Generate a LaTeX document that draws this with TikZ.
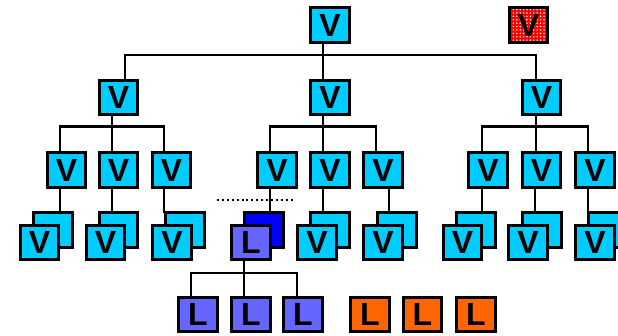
\documentclass[tikz,border=0pt]{standalone}
\usepackage{fontspec}
\setmainfont{Liberation Sans}
\usetikzlibrary{positioning, patterns.meta}

\definecolor{vcyan}{RGB}{0,204,255}
\definecolor{lblue}{RGB}{102,102,255}
\definecolor{dblue}{RGB}{0,0,255}
\definecolor{lorange}{RGB}{255,102,0}

\begin{document}
\begin{tikzpicture}[
    x=1pt, y=-1pt,
    box/.style={
        rectangle,
        draw=black,
        line width=2.6pt,
        minimum width=38.5pt,
        minimum height=34.5pt,
        inner sep=0pt,
        font=\bfseries\fontsize{32}{32}\selectfont
    },
    vbox/.style={box, fill=vcyan},
    lbox/.style={box, fill=lblue},
    link/.style={line width=2.6pt, draw=black}
]
\useasboundingbox (0,0) rectangle (618,336);

% === Row 1: root and spare ===
\node[vbox] (v0) at (330, 25) {V};
\node[box, preaction={fill=red}, pattern={Dots[radius=0.8pt, distance=3.4pt]}, pattern color=white] (vr) at (528.5, 25) {V};

% === Row 2 ===
\node[vbox] (v1) at (118.5, 97.5) {V};
\node[vbox] (v2) at (330, 97.5) {V};
\node[vbox] (v3) at (541.5, 97.5) {V};

% === Row 3 ===
\node[vbox] (v11) at (66.5, 170) {V};
\node[vbox] (v12) at (118.5, 170) {V};
\node[vbox] (v13) at (171.5, 170) {V};
\node[vbox] (v21) at (277, 170) {V};
\node[vbox] (v22) at (330, 170) {V};
\node[vbox] (v23) at (383, 170) {V};
\node[vbox] (v31) at (488, 170) {V};
\node[vbox] (v32) at (541.5, 170) {V};
\node[vbox] (v33) at (595, 170) {V};

% === Row 4: back copies ===
\node[vbox] (b11) at (53, 230) {};
\node[vbox] (b12) at (118.5, 230) {};
\node[vbox] (b13) at (185, 230) {};
\node[box, fill=dblue] (b21) at (264, 230) {};
\node[vbox] (b22) at (330, 230) {};
\node[vbox] (b23) at (397, 230) {};
\node[vbox] (b31) at (476, 230) {};
\node[vbox] (b32) at (542, 230) {};
\node[vbox] (b33) at (608, 230) {};

% === Row 4: front copies ===
\node[vbox] (f11) at (39.5, 242.5) {V};
\node[vbox] (f12) at (105.5, 242.5) {V};
\node[vbox] (f13) at (172, 242.5) {V};
\node[lbox] (f21) at (251, 242.5) {L};
\node[vbox] (f22) at (317, 242.5) {V};
\node[vbox] (f23) at (383, 242.5) {V};
\node[vbox] (f31) at (462.5, 242.5) {V};
\node[vbox] (f32) at (528, 242.5) {V};
\node[vbox] (f33) at (595, 242.5) {V};

% === Row 5 ===
\node[lbox] (l1) at (198, 314.5) {L};
\node[lbox] (l2) at (251, 314.5) {L};
\node[lbox] (l3) at (303, 314.5) {L};
\node[box, fill=lorange] (o1) at (370, 314.5) {L};
\node[box, fill=lorange] (o2) at (422.5, 314.5) {L};
\node[box, fill=lorange] (o3) at (476, 314.5) {L};

% Tree links
\draw[link] ([xshift=-7]v0.south) -- ([xshift=-7]v2.north);
\draw[link] ([xshift=6.5]v1.north) -- ++(0,-24) -| ([xshift=-5.5]v3.north);

\draw[link] ([xshift=-6.5]v1.south) -- ([xshift=-6.5]v12.north);
\draw[link] ([xshift=-6.5]v11.north) -- ++(0,-25) -| ([xshift=-7.5]v13.north);
\draw[link] ([xshift=-7]v2.south) -- ([xshift=-7]v22.north);
\draw[link] ([xshift=-7]v21.north) -- ++(0,-25) -| ([xshift=-7]v23.north);
\draw[link] ([xshift=-5.5]v3.south) -- ([xshift=-5.5]v32.north);
\draw[link] ([xshift=-6]v31.north) -- ++(0,-25) -| ([xshift=-7]v33.north);

\draw[link] ([xshift=-6.5]v11.south) -- ++(0,24);
\draw[link] ([xshift=-6.5]v12.south) -- ++(0,24);
\draw[link] ([xshift=-7.5]v13.south) -- ++(0,24);
\draw[link] ([xshift=-7]v21.south) -- ++(0,24);
\draw[link] ([xshift=-7]v22.south) -- ++(0,24);
\draw[link] ([xshift=6]v23.south) -- ++(0,24);
\draw[link] ([xshift=-6]v31.south) -- ++(0,24);
\draw[link] ([xshift=-6.5]v32.south) -- ++(0,24);
\draw[link] ([xshift=-7]v33.south) -- ++(0,24);

\draw[link] ([xshift=-7]f21.south) -- ([xshift=-7]l2.north);
\draw[link] ([xshift=-7]l1.north) -- ++(0,-23) -| ([xshift=-6]l3.north);

% Cut line
\coordinate (cut1) at (217, 200);
\coordinate (cut2) at (295, 200);
\draw[line width=2.2pt, dash pattern=on 2pt off 2.9pt] (cut1) -- (cut2);

\end{tikzpicture}
\end{document}
